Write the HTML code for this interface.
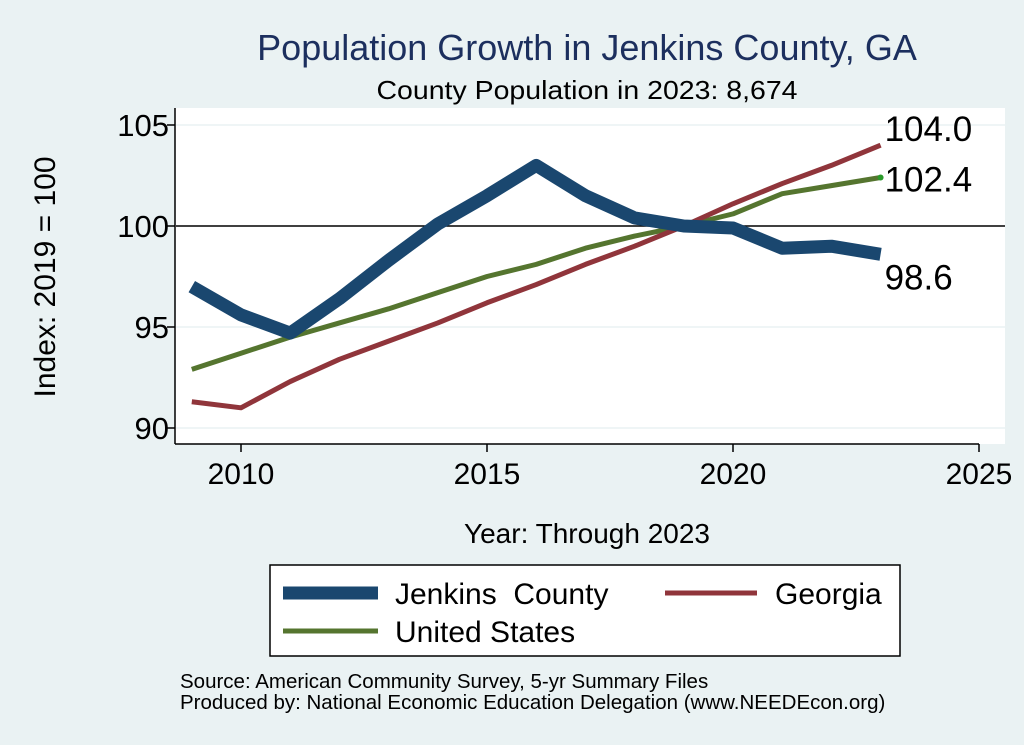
<!DOCTYPE html>
<html><head><meta charset="utf-8"><style>
body{margin:0;background:#eaf2f3;}
svg{display:block;font-family:"Liberation Sans",Arial,sans-serif;}
</style></head><body>
<svg id="c" width="1024" height="745">
<rect x="0" y="0" width="1024" height="745" fill="#eaf2f3"/>
<text x="587" y="60" font-size="36" fill="#1c2f5e" text-anchor="middle">Population Growth in Jenkins County, GA</text>
<text x="587" y="99" font-size="26" fill="#000" text-anchor="middle" textLength="421" lengthAdjust="spacingAndGlyphs">County Population in 2023: 8,674</text>
<rect x="175" y="108" width="830" height="336" fill="#fff"/>
<g id="grid"></g>
<g id="axes"></g>
<g id="series"></g>
<text x="55" y="277" font-size="30" text-anchor="middle" transform="rotate(-90 55 277)">Index: 2019 = 100</text>
<text x="587" y="543" font-size="28" text-anchor="middle">Year: Through 2023</text>
<g>
<rect x="270" y="565" width="630" height="91" fill="#fff" stroke="#000" stroke-width="1.5"/>
<line x1="283" y1="593" x2="378" y2="593" stroke="#1a476f" stroke-width="13"/>
<text x="395" y="604" font-size="30" xml:space="preserve">Jenkins  County</text>
<line x1="665" y1="593" x2="757" y2="593" stroke="#90353b" stroke-width="5"/>
<text x="775" y="604" font-size="30">Georgia</text>
<line x1="283" y1="631" x2="378" y2="631" stroke="#55752f" stroke-width="5"/>
<text x="395" y="642" font-size="30">United States</text>
</g>
<text x="180" y="688" font-size="20.5">Source: American Community Survey, 5-yr Summary Files</text>
<text x="180" y="709" font-size="20.5">Produced by: National Economic Education Delegation (www.NEEDEcon.org)</text>
</svg>
<script>
const years=[2009,2010,2011,2012,2013,2014,2015,2016,2017,2018,2019,2020,2021,2022,2023];
const jenkins=[97.0,95.6,94.7,96.4,98.3,100.1,101.5,103.0,101.5,100.4,100.0,99.9,98.9,99.0,98.6];
const georgia=[91.3,91.0,92.3,93.4,94.3,95.2,96.2,97.1,98.1,99.0,100.0,101.1,102.1,103.0,104.0];
const us=[92.9,93.7,94.5,95.2,95.9,96.7,97.5,98.1,98.9,99.5,100.0,100.6,101.6,102.0,102.4];
const xTicks=[2010,2015,2020,2025];
const yTicks=[90,95,100,105];
const NS="http://www.w3.org/2000/svg";
const X=v=>241+(v-2010)*(733-241)/10;
const Y=v=>226-(v-100)*(428-226)/10;
function mk(t,a,p){const e=document.createElementNS(NS,t);for(const k in a)e.setAttribute(k,a[k]);p.appendChild(e);return e;}
const grid=document.getElementById('grid'),axes=document.getElementById('axes'),ser=document.getElementById('series');
yTicks.forEach(t=>{
 const g=mk('line',{x1:176,x2:1005,y1:Y(t),y2:Y(t),stroke:t===100?'#000':'#eaf2f3','stroke-width':1.5},grid);
 
 
 const k=mk('line',{x1:167,x2:175,y1:Y(t),y2:Y(t),stroke:'#000','stroke-width':1.5},axes);
 
 
 const l=mk('text',{x:169,y:Y(t)+11,'font-size':31,'text-anchor':'end'},axes);l.textContent=t;
 
 
});
xTicks.forEach(t=>{
 const k=mk('line',{x1:X(t),x2:X(t),y1:444,y2:452,stroke:'#000','stroke-width':1.5},axes);
 
 
 const l=mk('text',{x:X(t),y:484,'font-size':30,'text-anchor':'middle'},axes);l.textContent=t;
 
 
});
const ya=mk('line',{x1:175,x2:175,y1:108,y2:444,stroke:'#000','stroke-width':1.5},axes);


const xa=mk('line',{x1:175,x2:X(2025),y1:444,y2:444,stroke:'#000','stroke-width':1.5},axes);


function line(vals,color,w,name){
 const p=mk('polyline',{points:vals.map((v,i)=>X(years[i])+','+Y(v)).join(' '),fill:'none',stroke:color,'stroke-width':w,'stroke-linejoin':'round'},ser);
 
 
}
line(us,'#55752f',5,'line-united-states');
line(georgia,'#90353b',5,'line-georgia');
line(jenkins,'#1a476f',13,'line-jenkins-county');
const n=years.length-1;
const d=mk('circle',{cx:X(years[n]),cy:Y(us[n]),r:3,fill:'#2a9a2a'},ser);


const lbls=[[georgia[n],Y(georgia[n])-4,'label-georgia-end'],[us[n],Y(us[n])+14,'label-us-end'],[jenkins[n],Y(jenkins[n])+35,'label-jenkins-end']];
lbls.forEach(([v,y,nm])=>{
 const t=mk('text',{x:X(years[n])+4,y:y,'font-size':35},ser);t.textContent=v.toFixed(1);
 
 
});
</script>
</body></html>
